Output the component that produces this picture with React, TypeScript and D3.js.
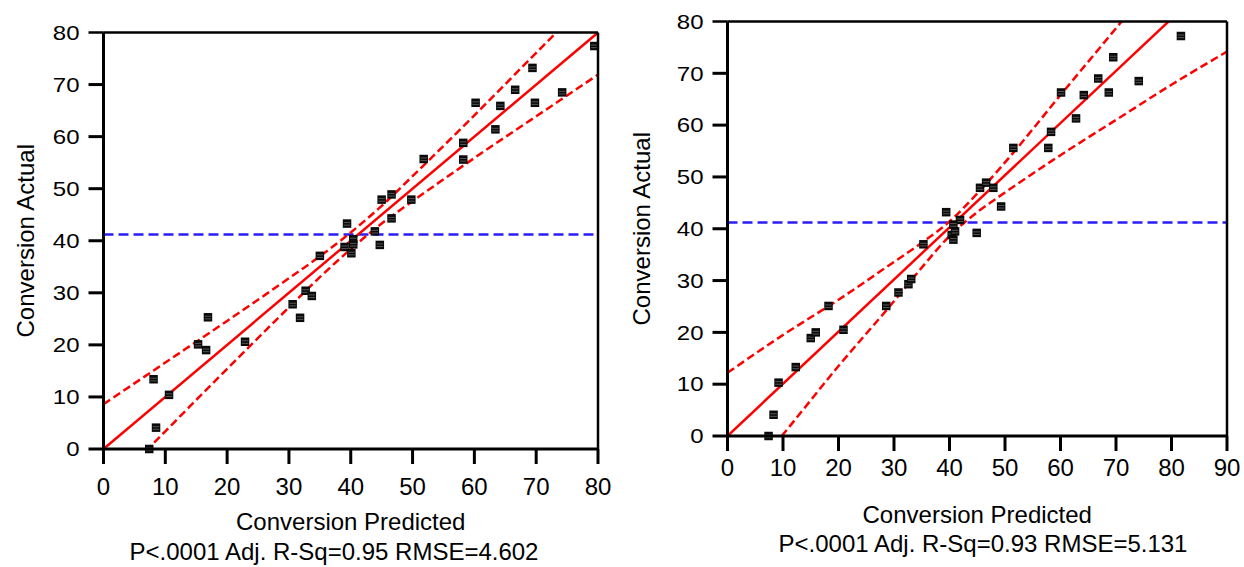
import React from "react";
import * as d3 from "d3";

// ---------- DATA ----------
// Left panel: [predicted, actual]
const leftPoints: [number, number][] = [
  [7.4, 0.0], [8.5, 4.1], [8.1, 13.4], [10.6, 10.4], [15.3, 20.1], [16.6, 19.0],
  [16.9, 25.3], [22.9, 20.6], [30.6, 27.8], [31.8, 25.2], [32.7, 30.4], [33.7, 29.4],
  [35.0, 37.1], [39.4, 43.3], [39.0, 38.8], [40.4, 40.3], [40.4, 39.3], [40.1, 37.6],
  [43.9, 41.8], [44.7, 39.2], [45.0, 47.9], [46.6, 48.9], [46.6, 44.3], [49.8, 47.9],
  [51.8, 55.7], [58.2, 58.8], [58.2, 55.6], [60.2, 66.5], [63.4, 61.4], [64.2, 65.9],
  [66.6, 69.0], [69.4, 73.2], [69.8, 66.5], [74.2, 68.5], [79.4, 77.4],
];
// Right panel: [predicted, actual]
const rightPoints: [number, number][] = [
  [7.4, 0.0], [8.3, 4.1], [9.2, 10.3], [12.3, 13.3], [15.0, 18.9], [15.9, 20.0],
  [18.2, 25.1], [20.9, 20.5], [28.6, 25.1], [30.8, 27.7], [32.6, 29.3], [33.1, 30.3],
  [35.3, 37.0], [39.4, 43.2], [41.9, 41.7], [40.7, 40.8], [40.4, 38.8], [40.7, 37.9],
  [41.0, 39.5], [44.9, 39.2], [45.5, 47.9], [46.6, 48.9], [47.9, 47.9], [49.3, 44.3],
  [51.5, 55.6], [57.8, 55.6], [58.3, 58.7], [60.1, 66.3], [62.8, 61.3], [64.2, 65.8],
  [66.8, 69.0], [68.7, 66.3], [69.5, 73.1], [74.1, 68.5], [81.7, 77.2],
];

// Confidence curves
const leftBandX = [0, 5, 10, 20, 30, 35, 40, 45, 50, 60, 70, 75, 80];
const leftUpper = [8.6, 12.6, 16.6, 24.6, 32.8, 37.0, 41.6, 46.7, 52.4, 64.1, 76.1, 82.1, 88.1];
const leftLower = [-8.6, -2.6, 3.4, 15.4, 27.2, 33.0, 38.4, 43.3, 47.6, 55.9, 63.9, 67.9, 71.9];

const rightBandX = [0, 10, 20, 30, 35, 40, 45, 50, 60, 70, 80, 90];
const rightUpper = [12.2, 19.5, 26.3, 33.6, 37.3, 41.4, 46.8, 52.8, 65.8, 78.7, 91.7, 104.7];
const rightLower = [-12.4, 0.3, 13.5, 26.0, 32.5, 38.6, 43.2, 47.0, 54.2, 61.0, 67.8, 74.2];

// Fit lines
const leftFitX = [0, 80];
const leftFitY = [0, 80];
const rightFitX = [0, 90];
const rightFitY = [0, 90.6];

const meanActual = 41.2;

const leftXTicks = [0, 10, 20, 30, 40, 50, 60, 70, 80];
const rightXTicks = [0, 10, 20, 30, 40, 50, 60, 70, 80, 90];
const yTicks = [0, 10, 20, 30, 40, 50, 60, 70, 80];

const xTitle = "Conversion Predicted";
const yTitle = "Conversion Actual";
const leftStats = "P<.0001 Adj. R-Sq=0.95 RMSE=4.602";
const rightStats = "P<.0001 Adj. R-Sq=0.93 RMSE=5.131";

const FONT = "'Liberation Sans', Arial, Helvetica, sans-serif";

type PanelProps = {
  id: string;
  x0: number; x1: number; y0: number; y1: number; // pixel box: x0 left, x1 right, y0 bottom, y1 top
  xMax: number;
  xTicks: number[];
  points: [number, number][];
  bandX: number[]; upper: number[]; lower: number[];
  fitX: number[]; fitY: number[];
  xTickLabelY: number;
  xTitleY: number; statsY: number; statsX: number; yTitleX: number;
  stats: string;
};

function Panel(p: PanelProps) {
  const xs = d3.scaleLinear().domain([0, p.xMax]).range([p.x0, p.x1]);
  const ys = d3.scaleLinear().domain([0, 80]).range([p.y0, p.y1]);
  const tickLen = 15;
  const line = d3.line<[number, number]>().x(d => xs(d[0])).y(d => ys(d[1])).curve(d3.curveMonotoneX);
  const upperPath = line(p.bandX.map((x, i) => [x, p.upper[i]] as [number, number])) || "";
  const lowerPath = line(p.bandX.map((x, i) => [x, p.lower[i]] as [number, number])) || "";
  const fitPath = d3.line<[number, number]>().x(d => xs(d[0])).y(d => ys(d[1]))(
    p.fitX.map((x, i) => [x, p.fitY[i]] as [number, number])
  ) || "";
  const midX = (p.x0 + p.x1) / 2;
  const midY = (p.y0 + p.y1) / 2;
  const ms = 8.5;
  return (
    <g>
      <defs>
        <clipPath id={p.id}>
          <rect x={p.x0} y={p.y1} width={p.x1 - p.x0} height={p.y0 - p.y1} />
        </clipPath>
      </defs>
      <g clipPath={`url(#${p.id})`}>
        <line x1={p.x0} x2={p.x1} y1={ys(meanActual)} y2={ys(meanActual)}
          stroke="#2a1cf5" strokeWidth={2.5} strokeDasharray="10,5" />
        <path d={upperPath} fill="none" stroke="#ff0000" strokeWidth={2.5} strokeDasharray="8,4" />
        <path d={lowerPath} fill="none" stroke="#ff0000" strokeWidth={2.5} strokeDasharray="8,4" />
        <path d={fitPath} fill="none" stroke="#ff0000" strokeWidth={2.5} />
      </g>
      {p.points.map((d, i) => {
        const cx = xs(d[0]);
        const cy = ys(d[1]);
        return (
          <g key={i}>
            <rect x={cx - ms / 2} y={cy - ms / 2} width={ms} height={ms} fill="#0a0a0a" />
            <line x1={cx - ms / 2 + 1} x2={cx + ms / 2 - 1} y1={cy - 1} y2={cy - 1} stroke="#6a6a6a" strokeWidth={0.8} />
            <line x1={cx - ms / 2 + 1} x2={cx + ms / 2 - 1} y1={cy + 1.6} y2={cy + 1.6} stroke="#6a6a6a" strokeWidth={0.8} />
          </g>
        );
      })}
      {/* frame */}
      <line x1={p.x0} x2={p.x0} y1={p.y1} y2={p.y0} stroke="#000" strokeWidth={3} />
      <line x1={p.x0} x2={p.x1} y1={p.y0} y2={p.y0} stroke="#000" strokeWidth={3} />
      <line x1={p.x1} x2={p.x1} y1={p.y1} y2={p.y0} stroke="#000" strokeWidth={2.5} />
      <line x1={p.x0} x2={p.x1} y1={p.y1} y2={p.y1} stroke="#000" strokeWidth={2.5} />
      {/* x ticks */}
      {p.xTicks.map(t => (
        <g key={"xt" + t}>
          <line x1={xs(t)} x2={xs(t)} y1={p.y0} y2={p.y0 + tickLen} stroke="#000" strokeWidth={3} />
          <text x={xs(t)} y={p.xTickLabelY} textAnchor="middle" fontSize={24} fontFamily={FONT} fill="#000">{t}</text>
        </g>
      ))}
      {/* y ticks */}
      {yTicks.map(t => (
        <g key={"yt" + t}>
          <line x1={p.x0 - tickLen} x2={p.x0} y1={ys(t)} y2={ys(t)} stroke="#000" strokeWidth={t === 80 ? 2.5 : 3} />
          <g transform={`translate(${p.x0 - tickLen - 9},${ys(t)}) scale(1.2,1)`}>
            <text x={0} y={0} dy="0.36em" textAnchor="end" fontSize={20} fontFamily={FONT} fill="#000">{t}</text>
          </g>
        </g>
      ))}
      <text x={midX} y={p.xTitleY} textAnchor="middle" fontSize={24} fontFamily={FONT} fill="#000">{xTitle}</text>
      <text x={p.statsX} y={p.statsY} textAnchor="middle" fontSize={24} fontFamily={FONT} fill="#000">{p.stats}</text>
      <text transform={`translate(${p.yTitleX},${midY}) rotate(-90)`} textAnchor="middle" dy="0.36em"
        fontSize={24} fontFamily={FONT} fill="#000">{yTitle}</text>
    </g>
  );
}

export default function App() {
  return (
    <svg width={1244} height={567} style={{ position: "absolute", left: 0, top: 0, background: "#fff" }}>
      <rect x={0} y={0} width={1244} height={567} fill="#fff" />
      <Panel id="clipL" x0={103.5} x1={598} y0={449} y1={32.5} xMax={80} xTicks={leftXTicks}
        points={leftPoints} bandX={leftBandX} upper={leftUpper} lower={leftLower}
        fitX={leftFitX} fitY={leftFitY}
        xTickLabelY={495} xTitleY={530} statsY={560} statsX={334} yTitleX={25} stats={leftStats} />
      <Panel id="clipR" x0={727.5} x1={1227} y0={436} y1={21.5} xMax={90} xTicks={rightXTicks}
        points={rightPoints} bandX={rightBandX} upper={rightUpper} lower={rightLower}
        fitX={rightFitX} fitY={rightFitY}
        xTickLabelY={476} xTitleY={523} statsY={552} statsX={983} yTitleX={641} stats={rightStats} />
    </svg>
  );
}
